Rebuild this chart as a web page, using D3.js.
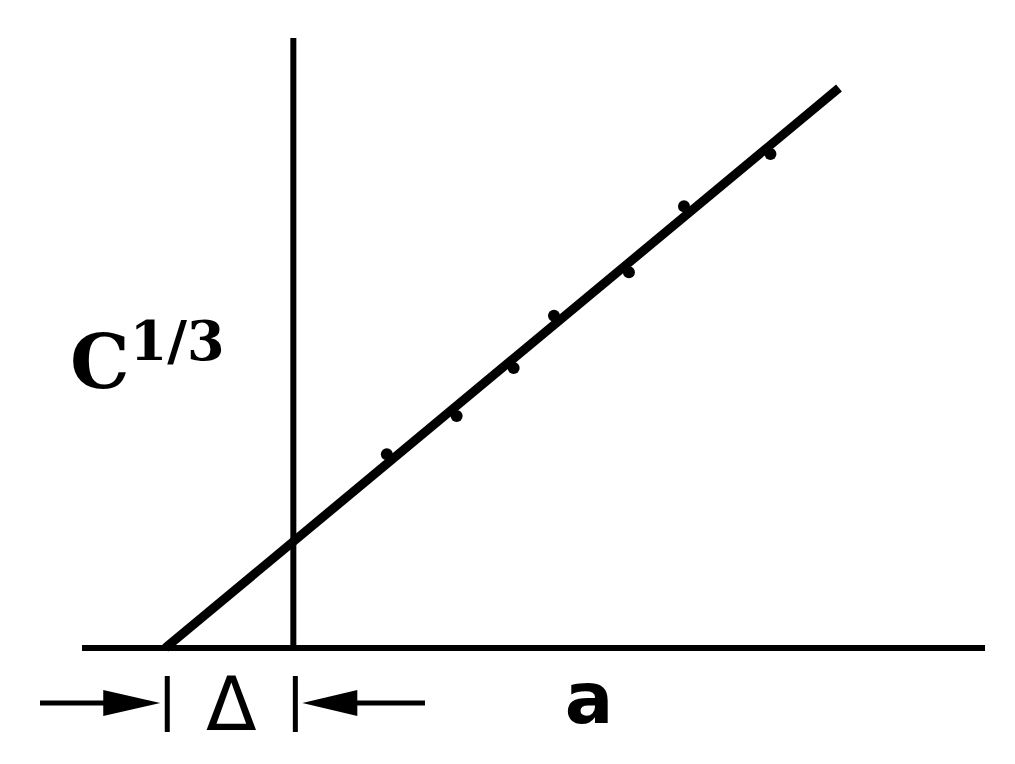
<!DOCTYPE html>
<html><head><meta charset="utf-8">
<script src="https://cdn.jsdelivr.net/npm/d3@7"></script>
<style>html,body{margin:0;padding:0;background:#fff;}</style>
</head><body>
<svg id="chart" width="1015" height="764"></svg>
<script>
// Data (a, C^(1/3))
const aValues = [1.46, 2.55, 3.44, 4.07, 5.24, 6.10, 7.45];
const cValues = [1.82, 2.18, 2.63, 3.12, 3.53, 4.15, 4.64];
const fitSlope = 0.5;
const fitIntercept = 1.0;
const fitRange = [-2, 8.52];
const delta = 2;
const xDomain = [-3.3, 10.8];
const yDomain = [0, 5.73];
const xLabel = "a";
const yLabel = "C";
const yLabelSup = "1/3";
const deltaLabel = "Δ";

const svg = d3.select("#chart");
const x = d3.scaleLinear().domain(xDomain).range([82, 985]);
const y = d3.scaleLinear().domain(yDomain).range([648, 38]);

// horizontal axis
svg.append("line").attr("x1", x(xDomain[0])).attr("x2", x(xDomain[1]))
  .attr("y1", y(0)).attr("y2", y(0)).attr("stroke", "#000").attr("stroke-width", 6);
// vertical axis
svg.append("line").attr("x1", x(0)).attr("x2", x(0))
  .attr("y1", y(0) + 2).attr("y2", y(yDomain[1])).attr("stroke", "#000").attr("stroke-width", 6);

// data markers
svg.selectAll("circle.pt").data(aValues.map((a, i) => [a, cValues[i]])).enter()
  .append("circle").attr("class", "pt")
  .attr("cx", d => x(d[0])).attr("cy", d => y(d[1]))
  .attr("r", 6).attr("fill", "#000");

// fit line
const line = d3.line().x(d => x(d)).y(d => y(fitSlope * d + fitIntercept));
svg.append("path").attr("d", line(fitRange)).attr("fill", "none")
  .attr("stroke", "#000").attr("stroke-width", 9).attr("stroke-linecap", "butt");

// labels
const yl = svg.append("text").attr("x", 70).attr("y", 388)
  .attr("font-family", "DejaVu Serif").attr("font-weight", "bold").attr("fill", "#000");
yl.append("tspan").attr("font-size", 75).text(yLabel);
yl.append("tspan").attr("font-size", 54).attr("dy", -28).attr("dx", 0).text(yLabelSup);

svg.append("text").attr("x", 589).attr("y", 723).attr("text-anchor", "middle")
  .attr("font-family", "DejaVu Sans").attr("font-weight", "bold").attr("font-size", 72)
  .attr("fill", "#000").text(xLabel);

// delta annotation
const ay = 703;
const xl = x(-delta) + 2, xr = x(0) + 2;
svg.append("text").attr("x", (xl + xr) / 2).attr("y", 730).attr("text-anchor", "middle")
  .attr("font-family", "DejaVu Sans").attr("font-size", 74).attr("fill", "#000").text(deltaLabel);
[xl, xr].forEach(xx => {
  svg.append("line").attr("x1", xx).attr("x2", xx).attr("y1", 676).attr("y2", 732)
    .attr("stroke", "#000").attr("stroke-width", 5);
});
// left arrow
svg.append("line").attr("x1", 40).attr("x2", xl - 60).attr("y1", ay).attr("y2", ay)
  .attr("stroke", "#000").attr("stroke-width", 5);
svg.append("path").attr("d", `M${xl - 7},${ay} L${xl - 64},${ay - 13} L${xl - 64},${ay + 13} Z`).attr("fill", "#000");
// right arrow
svg.append("line").attr("x1", xr + 50).attr("x2", 425).attr("y1", ay).attr("y2", ay)
  .attr("stroke", "#000").attr("stroke-width", 5);
svg.append("path").attr("d", `M${xr + 7},${ay} L${xr + 62},${ay - 13} L${xr + 62},${ay + 13} Z`).attr("fill", "#000");
</script>
</body></html>
